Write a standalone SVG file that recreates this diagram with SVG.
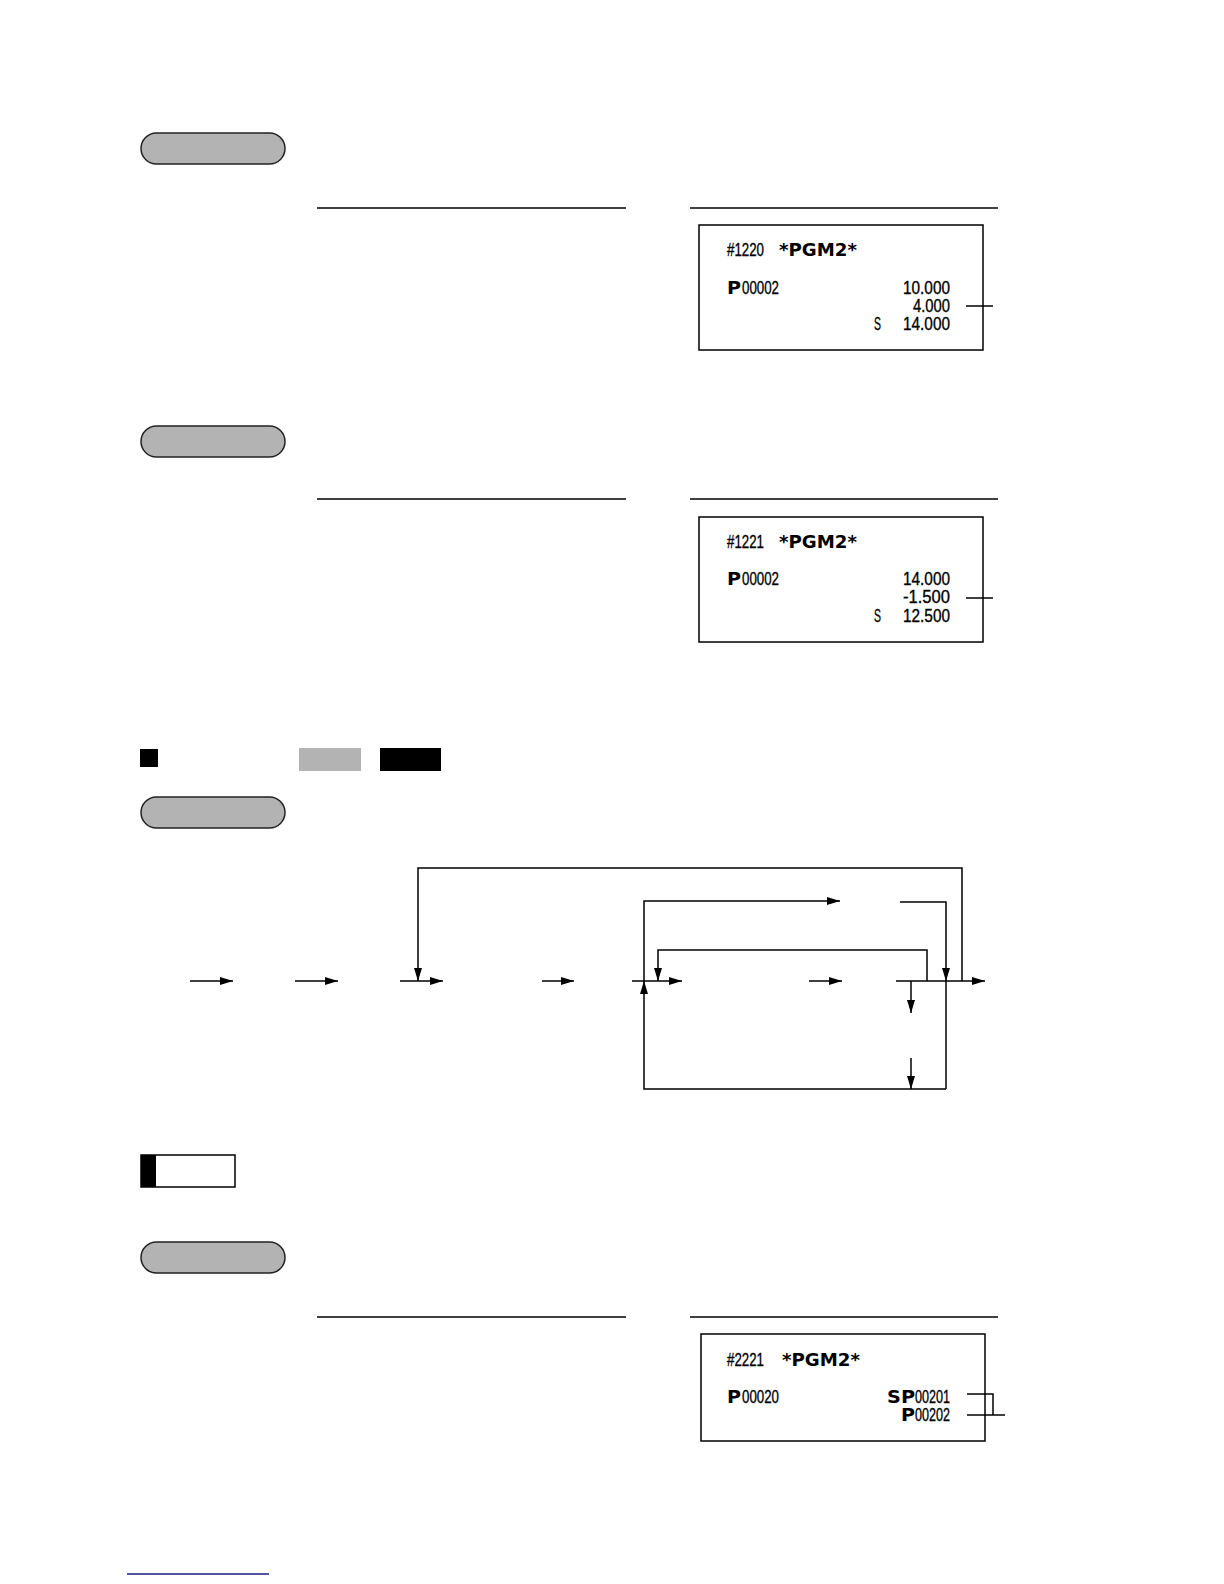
<svg xmlns="http://www.w3.org/2000/svg" width="1224" height="1584" viewBox="0 0 1224 1584">
<defs>
<style>
.pill{fill:#b3b3b3;stroke:#222;stroke-width:1.5}
.rule{stroke:#000;stroke-width:1.3}
.box{fill:#fff;stroke:#000;stroke-width:1.5}
.num{font-family:"Liberation Sans",Arial,sans-serif;font-size:19px;fill:#000;stroke:#000;stroke-width:0.35}
.bold{font-family:"DejaVu Sans","Liberation Sans",sans-serif;font-weight:700;font-size:18px;fill:#000}
.ln{stroke:#000;stroke-width:1.5;fill:none}
.arr{stroke:#000;stroke-width:1.5;fill:none;marker-end:url(#ah)}
</style>
<marker id="ah" viewBox="0 0 13 8" refX="13" refY="4" markerWidth="13" markerHeight="8" markerUnits="userSpaceOnUse" orient="auto">
<path d="M0,0 L13,4 L0,8 Z" fill="#000"/>
</marker>
</defs>

<g id="section1">
<rect id="pill1" class="pill" x="141" y="133" width="144" height="31" rx="15.5"/>
<line class="rule" x1="317" y1="208" x2="626" y2="208"/>
<line class="rule" x1="690" y1="208" x2="998" y2="208"/>
<g id="receipt1">
<rect class="box" x="699" y="225" width="284" height="125"/>
<text class="num" x="727" y="256" textLength="37" lengthAdjust="spacingAndGlyphs">#1220</text>
<text class="bold" x="779" y="256" textLength="78" lengthAdjust="spacingAndGlyphs">*PGM2*</text>
<text class="bold" x="727" y="294" textLength="14" lengthAdjust="spacingAndGlyphs">P</text>
<text class="num" x="742" y="294" textLength="37" lengthAdjust="spacingAndGlyphs">00002</text>
<text class="num" x="903" y="294" textLength="47" lengthAdjust="spacingAndGlyphs">10.000</text>
<text class="num" x="913" y="312" textLength="37" lengthAdjust="spacingAndGlyphs">4.000</text>
<text class="num" x="874" y="330" textLength="7" lengthAdjust="spacingAndGlyphs">S</text>
<text class="num" x="903" y="330" textLength="47" lengthAdjust="spacingAndGlyphs">14.000</text>
<line class="ln" x1="966" y1="306" x2="993" y2="306"/>
</g>
</g>

<g id="section2">
<rect id="pill2" class="pill" x="141" y="426" width="144" height="31" rx="15.5"/>
<line class="rule" x1="317" y1="499" x2="626" y2="499"/>
<line class="rule" x1="690" y1="499" x2="998" y2="499"/>
<g id="receipt2">
<rect class="box" x="699" y="517" width="284" height="125"/>
<text class="num" x="727" y="548" textLength="37" lengthAdjust="spacingAndGlyphs">#1221</text>
<text class="bold" x="779" y="548" textLength="78" lengthAdjust="spacingAndGlyphs">*PGM2*</text>
<text class="bold" x="727" y="585" textLength="14" lengthAdjust="spacingAndGlyphs">P</text>
<text class="num" x="742" y="585" textLength="37" lengthAdjust="spacingAndGlyphs">00002</text>
<text class="num" x="903" y="585" textLength="47" lengthAdjust="spacingAndGlyphs">14.000</text>
<text class="num" x="903" y="603" textLength="47" lengthAdjust="spacingAndGlyphs">-1.500</text>
<text class="num" x="874" y="622" textLength="7" lengthAdjust="spacingAndGlyphs">S</text>
<text class="num" x="903" y="622" textLength="47" lengthAdjust="spacingAndGlyphs">12.500</text>
<line class="ln" x1="966" y1="598" x2="993" y2="598"/>
</g>
</g>

<g id="section3">
<rect id="square" x="140" y="749" width="18" height="18" fill="#000"/>
<rect id="grayKey" x="299" y="748" width="62" height="23" fill="#b3b3b3"/>
<rect id="blackKey" x="380" y="748" width="61" height="23" fill="#000"/>
<rect id="pill3" class="pill" x="141" y="797" width="144" height="31" rx="15.5"/>
</g>

<g id="connectors">
<line class="arr" x1="190" y1="981" x2="233" y2="981"/>
<line class="arr" x1="295" y1="981" x2="338" y2="981"/>
<line class="arr" x1="400" y1="981" x2="443" y2="981"/>
<polyline class="arr" points="962,981 962,868 418,868 418,981"/>
<line class="arr" x1="542" y1="981" x2="574" y2="981"/>
<line class="arr" x1="632" y1="981" x2="682" y2="981"/>
<polyline class="arr" points="946,1089 644,1089 644,981"/>
<polyline class="arr" points="644,981 644,901 840,901"/>
<polyline class="arr" points="900,902 946,902 946,981"/>
<line class="ln" x1="946" y1="981" x2="946" y2="1089"/>
<polyline class="arr" points="927,981 927,950 658,950 658,981"/>
<line class="arr" x1="809" y1="981" x2="842" y2="981"/>
<line class="arr" x1="896" y1="981" x2="985" y2="981"/>
<line class="arr" x1="911" y1="981" x2="911" y2="1013"/>
<line class="arr" x1="911" y1="1058" x2="911" y2="1089"/>
</g>

<g id="section4">
<g id="note">
<rect class="box" x="141" y="1155" width="94" height="32"/>
<rect x="141" y="1155" width="15" height="32" fill="#000"/>
</g>
<rect id="pill4" class="pill" x="141" y="1242" width="144" height="31" rx="15.5"/>
<line class="rule" x1="317" y1="1317" x2="626" y2="1317"/>
<line class="rule" x1="690" y1="1317" x2="998" y2="1317"/>
<g id="receipt3">
<rect class="box" x="701" y="1334" width="284" height="107"/>
<text class="num" x="727" y="1366" textLength="37" lengthAdjust="spacingAndGlyphs">#2221</text>
<text class="bold" x="782" y="1366" textLength="78" lengthAdjust="spacingAndGlyphs">*PGM2*</text>
<text class="bold" x="727" y="1403" textLength="14" lengthAdjust="spacingAndGlyphs">P</text>
<text class="num" x="742" y="1403" textLength="37" lengthAdjust="spacingAndGlyphs">00020</text>
<text class="bold" x="887" y="1403" textLength="28" lengthAdjust="spacingAndGlyphs">SP</text>
<text class="num" x="915" y="1403" textLength="35" lengthAdjust="spacingAndGlyphs">00201</text>
<text class="bold" x="901" y="1421" textLength="14" lengthAdjust="spacingAndGlyphs">P</text>
<text class="num" x="915" y="1421" textLength="35" lengthAdjust="spacingAndGlyphs">00202</text>
<polyline class="ln" points="967,1394 993,1394 993,1415"/>
<line class="ln" x1="967" y1="1415" x2="1005" y2="1415"/>
</g>
</g>

<line id="footer" x1="127" y1="1574" x2="269" y2="1574" stroke="#1a1a80" stroke-width="1.5"/>
</svg>
